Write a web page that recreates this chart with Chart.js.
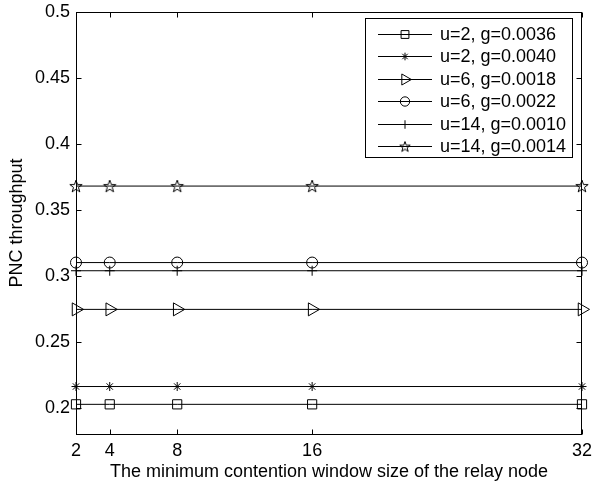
<!DOCTYPE html>
<html>
<head>
<meta charset="utf-8">
<script src="https://cdn.jsdelivr.net/npm/chart.js@4/dist/chart.umd.min.js"></script>
<style>
html,body{margin:0;padding:0;background:#fff;}
#wrap{width:592px;height:485px;}
</style>
</head>
<body>
<div id="wrap"><canvas id="c" width="592" height="485"></canvas></div>
<script>
// ---- data ----
const windowSizes = [2, 4, 8, 16, 32];
const seriesLabels = ["u=2, g=0.0036", "u=2, g=0.0040", "u=6, g=0.0018", "u=6, g=0.0022", "u=14, g=0.0010", "u=14, g=0.0014"];
const s_u2_g36 = [0.2025, 0.2025, 0.2025, 0.2025, 0.2025];
const s_u2_g40 = [0.2160, 0.2160, 0.2160, 0.2160, 0.2160];
const s_u6_g18 = [0.2745, 0.2745, 0.2745, 0.2745, 0.2745];
const s_u6_g22 = [0.3100, 0.3100, 0.3100, 0.3100, 0.3100];
const s_u14_g10 = [0.3038, 0.3038, 0.3038, 0.3038, 0.3038];
const s_u14_g14 = [0.3680, 0.3680, 0.3680, 0.3680, 0.3680];
const yTicks = [0.2, 0.25, 0.3, 0.35, 0.4, 0.45, 0.5];
const yTickLabels = ["0.2", "0.25", "0.3", "0.35", "0.4", "0.45", "0.5"];
const xTickLabels = ["2", "4", "8", "16", "32"];
const xTitle = "The minimum contention window size of the relay node";
const yTitle = "PNC throughput";

// pentagram marker image
function makePentagram(r) {
  const s = Math.ceil(r * 2 + 3);
  const cv = document.createElement('canvas');
  cv.width = s; cv.height = s;
  const g = cv.getContext('2d');
  const cx = s / 2, cy = s / 2 + 0.5, ri = r * 0.4;
  g.beginPath();
  for (let i = 0; i < 10; i++) {
    const ang = -Math.PI / 2 + i * Math.PI / 5;
    const rr = i % 2 === 0 ? r : ri;
    const px = cx + rr * Math.cos(ang), py = cy + rr * Math.sin(ang);
    if (i === 0) g.moveTo(px, py); else g.lineTo(px, py);
  }
  g.closePath();
  g.strokeStyle = '#000'; g.lineWidth = 1; g.stroke();
  return cv;
}
const starImg = makePentagram(6.5);
const starImgSmall = makePentagram(5.5);

const FONT = "'Liberation Sans', Arial, Helvetica, sans-serif";
const marks = [
  {style: 'rect', radius: 6.5, rot: 0},
  {style: 'star', radius: 4.5, rot: 0},
  {style: 'triangle', radius: 7.5, rot: 90},
  {style: 'circle', radius: 5.5, rot: 0},
  {style: 'cross', radius: 5, rot: 0},
  {style: starImg, radius: 6, rot: 0}
];
const seriesData = [s_u2_g36, s_u2_g40, s_u6_g18, s_u6_g22, s_u14_g10, s_u14_g14];

const datasets = seriesData.map((vals, i) => ({
  label: seriesLabels[i],
  data: windowSizes.map((x, j) => ({x: x, y: vals[j]})),
  borderColor: '#000',
  backgroundColor: 'rgba(0,0,0,0)',
  borderWidth: 1,
  pointStyle: marks[i].style,
  pointRadius: marks[i].radius,
  pointRotation: marks[i].rot,
  pointBorderColor: '#000',
  pointBackgroundColor: 'rgba(0,0,0,0)',
  pointBorderWidth: 1,
  tension: 0,
  clip: false
}));

const framePlugin = {
  id: 'frame',
  afterDatasetsDraw(chart) {
    const ctx = chart.ctx;
    const a = chart.chartArea;
    const xs = chart.scales.x, ys = chart.scales.y;
    ctx.save();
    ctx.strokeStyle = '#000';
    ctx.lineWidth = 1;
    const L = Math.round(a.left) + 0.5, R = Math.round(a.right) - 0.5;
    const T = Math.round(a.top) + 0.5, B = Math.round(a.bottom) + 0.5;
    ctx.strokeRect(L, T, R - L, B - T);
    const tl = 5;
    ctx.beginPath();
    windowSizes.forEach(v => {
      const px = Math.round(xs.getPixelForValue(v)) + 0.5;
      ctx.moveTo(px, B); ctx.lineTo(px, B - tl);
      ctx.moveTo(px, T); ctx.lineTo(px, T + tl);
    });
    yTicks.forEach(v => {
      const py = Math.round(ys.getPixelForValue(v)) + 0.5;
      ctx.moveTo(L, py); ctx.lineTo(L + tl, py);
      ctx.moveTo(R, py); ctx.lineTo(R - tl, py);
    });
    ctx.stroke();

    // legend
    const bx = 365.5, by = 18.5, bw = 207, bh = 139;
    ctx.fillStyle = '#fff';
    ctx.fillRect(bx, by, bw, bh);
    ctx.strokeRect(bx, by, bw, bh);
    ctx.font = '18px ' + FONT;
    ctx.textBaseline = 'middle';
    ctx.textAlign = 'left';
    chart.data.datasets.forEach((ds, i) => {
      const y = Math.round(34 + i * 22.4) + 0.5;
      ctx.beginPath();
      ctx.strokeStyle = '#000';
      ctx.lineWidth = 1;
      ctx.moveTo(378, y); ctx.lineTo(432, y);
      ctx.stroke();
      ctx.fillStyle = 'rgba(0,0,0,0)';
      ctx.strokeStyle = '#000';
      Chart.helpers.drawPoint(ctx, {
        pointStyle: (i === 5) ? starImgSmall : ds.pointStyle,
        radius: ds.pointRadius * 0.85,
        rotation: ds.pointRotation,
        borderWidth: 1
      }, 405, y);
      ctx.fillStyle = '#000';
      ctx.fillText(ds.label, 440, y + 1);
    });
    ctx.restore();
  }
};

new Chart(document.getElementById('c'), {
  type: 'line',
  data: {datasets: datasets},
  options: {
    responsive: false,
    animation: false,
    events: [],
    layout: {padding: {top: 12, right: 10, left: 0, bottom: 0}},
    plugins: {legend: {display: false}, tooltip: {enabled: false}},
    scales: {
      x: {
        type: 'linear',
        min: 2, max: 32,
        afterFit(s) { s.height = 51; s.paddingLeft = 0; s.paddingRight = 0; },
        afterBuildTicks(s) { s.ticks = windowSizes.map(v => ({value: v})); },
        grid: {display: false, drawTicks: false},
        border: {display: false},
        ticks: {
          padding: 6, color: '#000', maxRotation: 0, autoSkip: false,
          font: {family: FONT, size: 18},
          callback: (v) => xTickLabels[windowSizes.indexOf(v)]
        },
        title: {display: true, text: xTitle, color: '#000', font: {family: FONT, size: 18}, padding: {top: 0, bottom: 2}}
      },
      y: {
        type: 'linear',
        min: 0.18, max: 0.5,
        afterFit(s) { s.width = 76; s.paddingTop = 0; s.paddingBottom = 0; },
        afterBuildTicks(s) { s.ticks = yTicks.map(v => ({value: v})); },
        grid: {display: false, drawTicks: false},
        border: {display: false},
        ticks: {
          padding: 6, color: '#000', autoSkip: false,
          font: {family: FONT, size: 18},
          callback: (v) => { const k = yTicks.findIndex(t => Math.abs(t - v) < 1e-9); return k >= 0 ? yTickLabels[k] : ''; }
        },
        title: {display: true, text: yTitle, color: '#000', font: {family: FONT, size: 18}, padding: {top: 6, bottom: 0}}
      }
    }
  },
  plugins: [framePlugin]
});
</script>
</body>
</html>
